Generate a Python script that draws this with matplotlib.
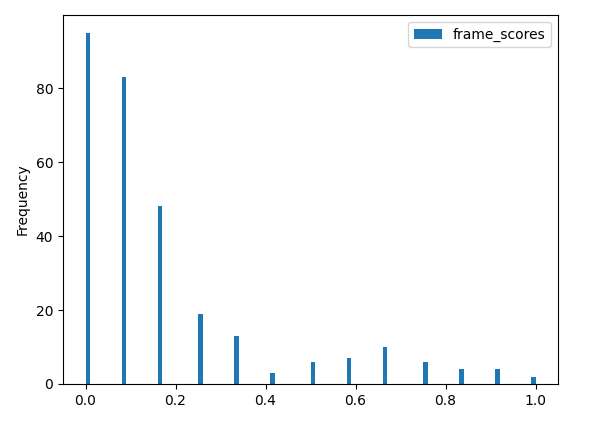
import numpy as np
import pandas as pd
import matplotlib
matplotlib.use("Agg")
import matplotlib.pyplot as plt

# distinct score values (multiples of 1/12) and how often each occurs
scores = np.arange(13) / 12
counts = [95, 83, 48, 19, 13, 3, 6, 7, 10, 6, 4, 4, 2]

df = pd.DataFrame({"frame_scores": np.repeat(scores, counts)})

fig, ax = plt.subplots(figsize=(6.03, 4.25))
fig.subplots_adjust(left=0.1045, right=0.9254, top=0.9647, bottom=0.0965)
df.plot.hist(bins=100, ax=ax)
plt.savefig("out.png", dpi=100)
